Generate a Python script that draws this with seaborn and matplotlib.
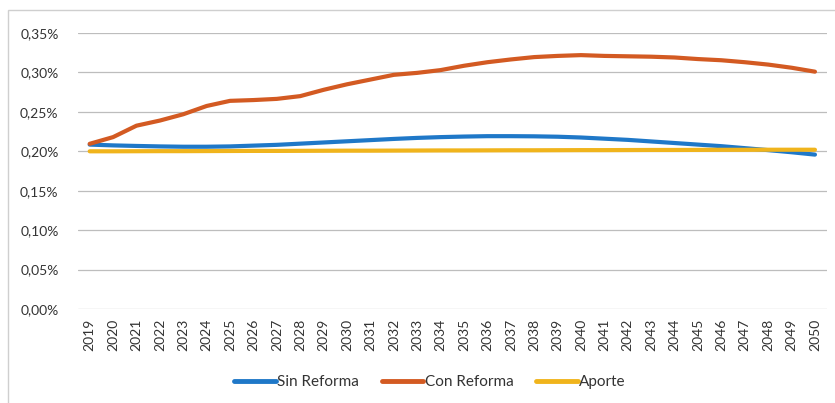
import numpy as np
import pandas as pd
import matplotlib
matplotlib.use("Agg")
import matplotlib.pyplot as plt
from matplotlib.ticker import FuncFormatter
from matplotlib.patches import Rectangle
import seaborn as sns

years = list(range(2019, 2051))

sin_reforma = [0.2085, 0.2075, 0.2068, 0.2062, 0.2058, 0.2058, 0.2062, 0.2072,
               0.2082, 0.2097, 0.2112, 0.2127, 0.2142, 0.2157, 0.2170, 0.2180,
               0.2187, 0.2192, 0.2192, 0.2190, 0.2185, 0.2175, 0.2160, 0.2145,
               0.2125, 0.2105, 0.2085, 0.2065, 0.2040, 0.2015, 0.1988, 0.1958]

con_reforma = [0.2095, 0.2180, 0.2325, 0.2390, 0.2470, 0.2575, 0.2640, 0.2650,
               0.2665, 0.2700, 0.2780, 0.2850, 0.2910, 0.2970, 0.2995, 0.3030,
               0.3085, 0.3130, 0.3165, 0.3195, 0.3210, 0.3220, 0.3210, 0.3205,
               0.3200, 0.3190, 0.3170, 0.3155, 0.3130, 0.3100, 0.3060, 0.3010]

aporte = [0.2000, 0.2000, 0.2001, 0.2002, 0.2002, 0.2003, 0.2004, 0.2005,
          0.2005, 0.2006, 0.2007, 0.2008, 0.2008, 0.2009, 0.2010, 0.2011,
          0.2011, 0.2012, 0.2013, 0.2013, 0.2014, 0.2015, 0.2015, 0.2016,
          0.2017, 0.2017, 0.2018, 0.2019, 0.2019, 0.2020, 0.2020, 0.2020]

series = ["Sin Reforma", "Con Reforma", "Aporte"]
colores = {"Sin Reforma": "#1f78c8", "Con Reforma": "#d35a22", "Aporte": "#f0b41c"}

df = pd.DataFrame({"Año": years, "Sin Reforma": sin_reforma,
                   "Con Reforma": con_reforma, "Aporte": aporte})
df_long = df.melt(id_vars="Año", var_name="Serie", value_name="Valor")

sns.set_style("white")
plt.rcParams["font.family"] = ["Lato", "DejaVu Sans"]

fig = plt.figure(figsize=(8.35, 4.03), dpi=100)
ax = fig.add_axes([0.0934, 0.2333, 0.8966, 0.6847])

sns.lineplot(data=df_long, x="Año", y="Valor", hue="Serie", hue_order=series,
             palette=colores, linewidth=3, ax=ax, legend=False)

ax.set_ylim(0, 0.35)
ax.set_yticks(np.arange(0, 0.351, 0.05))
ax.yaxis.set_major_formatter(FuncFormatter(lambda v, p: f"{v:.2f}%".replace(".", ",")))
ax.set_xlim(2018.5, 2050.5)
ax.set_xticks(years)
ax.set_xticklabels([str(y) for y in years], rotation=90)
ax.tick_params(axis="both", length=0, labelsize=10, colors="#333333")
ax.tick_params(axis="x", pad=7)
ax.tick_params(axis="y", pad=14)
ax.grid(axis="y", color="#bdbdbd", linewidth=0.9)
ax.set_axisbelow(True)
for s in ax.spines.values():
    s.set_visible(False)
ax.set_xlabel("")
ax.set_ylabel("")

handles = [plt.Line2D([], [], color=colores[s], linewidth=3.5) for s in series]
fig.legend(handles, series, loc="center", bbox_to_anchor=(0.515, 0.052), ncol=3,
           frameon=False, fontsize=11, handlelength=2.7, handletextpad=0.1,
           columnspacing=1.5, labelcolor="#333333")

fig.patches.append(Rectangle((0.009, -0.05), 1.1, 1.024, transform=fig.transFigure,
                             fill=False, edgecolor="#cfcfcf", linewidth=1))

fig.savefig("out.png", dpi=100)
